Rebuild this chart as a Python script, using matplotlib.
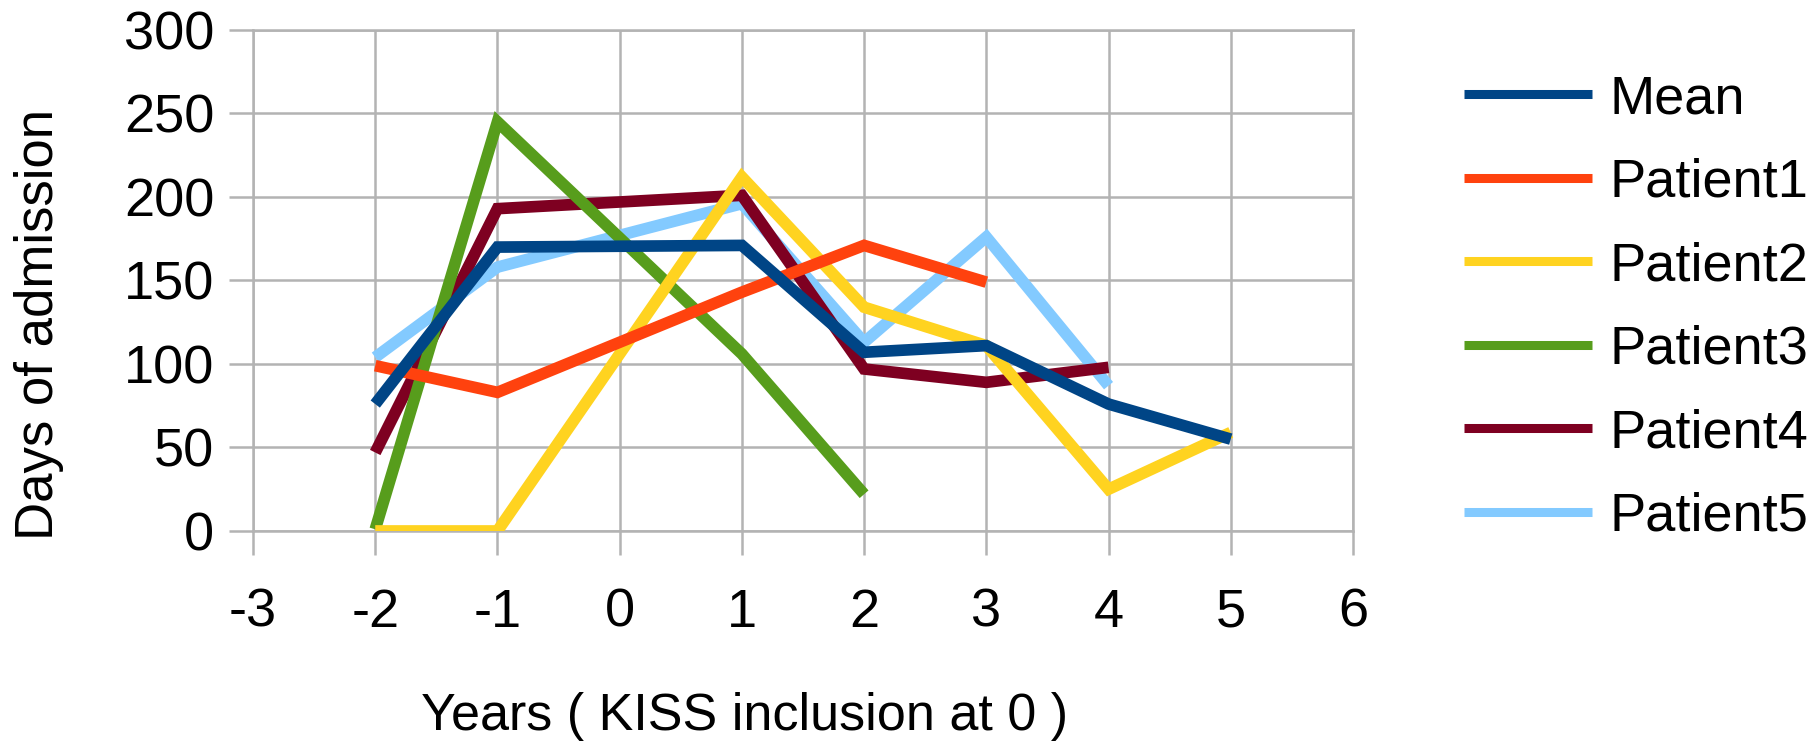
import matplotlib
matplotlib.use('Agg')
import matplotlib.pyplot as plt

plt.rcParams['font.family'] = ['Liberation Sans', 'DejaVu Sans']

# years relative to KISS inclusion (no values at year 0)
years_mean = [-2, -1, 1, 2, 3, 4, 5]
years_p1 = [-2, -1, 1, 2, 3]
years_p2 = [-2, -1, 1, 2, 3, 4, 5]
years_p3 = [-2, -1, 1, 2]
years_p4 = [-2, -1, 1, 2, 3, 4]
years_p5 = [-2, -1, 1, 2, 3, 4]

mean_days = [76, 170, 171, 107, 111, 76, 55]
patient1_days = [99, 83, 143, 171, 149]
patient2_days = [0, 0, 212, 134, 111, 25, 59]
patient3_days = [1, 245, 106, 22]
patient4_days = [47, 193, 201, 97, 89, 98]
patient5_days = [104, 158, 196, 113, 176, 87]

labels = ['Mean', 'Patient1', 'Patient2', 'Patient3', 'Patient4', 'Patient5']
colors = ['#004586', '#ff420e', '#ffd320', '#579d1c', '#7e0021', '#83caff']

xticks = [-3, -2, -1, 0, 1, 2, 3, 4, 5, 6]
yticks = [0, 50, 100, 150, 200, 250, 300]

FS = 39
GRID = '#b3b3b3'

fig = plt.figure(figsize=(18.19, 7.42), dpi=100)
ax = fig.add_axes([0.1391, 0.2844, 0.6047, 0.6752])

series = [
    (years_mean, mean_days),
    (years_p1, patient1_days),
    (years_p2, patient2_days),
    (years_p3, patient3_days),
    (years_p4, patient4_days),
    (years_p5, patient5_days),
]
# first series sits on top, like the original
for i, (xs, ys) in enumerate(series):
    ax.plot(xs, ys, color=colors[i], lw=8.4, label=labels[i],
            solid_capstyle='butt', solid_joinstyle='miter', zorder=20 - i)

ax.set_xlim(-3, 6)
ax.set_ylim(0, 300)
ax.set_xticks(xticks)
ax.set_yticks(yticks)
ax.set_xticklabels([str(t) for t in xticks])
ax.set_yticklabels([str(t) for t in yticks])
ax.grid(True, color=GRID, lw=1.8)
ax.set_axisbelow(True)
for s in ax.spines.values():
    s.set_color(GRID)
    s.set_linewidth(1.8)
ax.tick_params(axis='x', length=17, width=1.8, color=GRID, pad=24, labelsize=FS)
ax.tick_params(axis='y', length=17, width=1.8, color=GRID, pad=11, labelsize=FS)

fig.text(39 / 1819, 1 - 325 / 742, 'Days of admission', rotation=90,
         ha='center', va='center', fontsize=38)
fig.text(745 / 1819, 1 - 730 / 742, 'Years ( KISS inclusion at 0 )',
         ha='center', va='baseline', fontsize=37.5)

leg = fig.legend(loc='upper left', bbox_to_anchor=(1464 / 1819, 1 - 74 / 742),
                 frameon=False, fontsize=FS, handlelength=2.36, handletextpad=0.33,
                 labelspacing=0.62, borderpad=0, borderaxespad=0)
for h in leg.get_lines():
    h.set_linewidth(6.5)

fig.savefig('out.png', dpi=100)
